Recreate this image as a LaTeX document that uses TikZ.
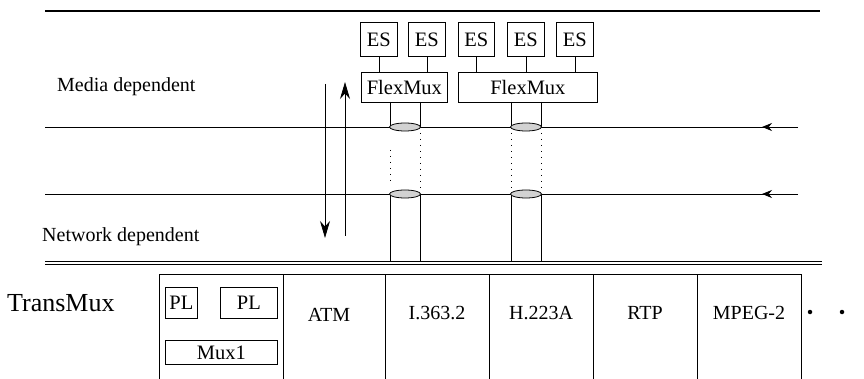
\documentclass[tikz,border=0pt]{standalone}
\usepackage{fontspec}
\setmainfont{Liberation Serif}
\usetikzlibrary{arrows.meta,shapes.geometric}
\begin{document}
\begin{tikzpicture}[x=1pt,y=-1pt,
  txt/.style={font=\fontsize{20}{24}\selectfont, inner sep=0pt},
  box/.style={draw, line width=0.8pt, inner sep=0pt, font=\fontsize{20.5}{24}\selectfont, anchor=north west},
  ln/.style={line width=0.8pt},
  thin dots/.style={line width=0.9pt, dash pattern=on 1pt off 5pt},
  lens/.style={draw, line width=0.8pt, fill=gray!35, ellipse, minimum width=31pt, minimum height=8pt, inner sep=0pt},
  dot/.style={circle, fill=black, inner sep=0pt, minimum size=4.5pt}
]
\useasboundingbox (0,0) rectangle (864,379);
% top rule
\coordinate (tl) at (45,11); \coordinate (tr) at (820,11);
\draw[line width=1.4pt] (tl) -- (tr);
% ES boxes
\node[box, minimum width=37pt, minimum height=34pt] (es1) at (360,22) {ES};
\node[box, minimum width=37pt, minimum height=34pt] (es2) at (408,22) {ES};
\node[box, minimum width=36pt, minimum height=34pt] (es3) at (458,22) {ES};
\node[box, minimum width=37pt, minimum height=34pt] (es4) at (507,22) {ES};
\node[box, minimum width=37pt, minimum height=34pt] (es5) at (556,22) {ES};
% FlexMux boxes
\node[box, minimum width=86pt, minimum height=30pt] (fm1) at (361,72) {FlexMux};
\node[box, minimum width=139pt, minimum height=30pt] (fm2) at (458,72) {FlexMux};
\foreach \e/\f in {es1/fm1,es2/fm1,es3/fm2,es4/fm2,es5/fm2}
  \draw[ln] (\e.south) -- (\e.south |- \f.north);
% horizontal layer lines
\coordinate (l1a) at (45,127); \coordinate (l1b) at (798,127); \coordinate (l1t) at (762,127);
\coordinate (l2a) at (45,194); \coordinate (l2b) at (798,194); \coordinate (l2t) at (762,194);
\draw[ln] (l1a) -- (l1b);
\draw[ln] (l2a) -- (l2b);
\draw[ln,-{Stealth[length=10pt,width=8pt]}] (l1b) -- (l1t);
\draw[ln,-{Stealth[length=10pt,width=8pt]}] (l2b) -- (l2t);
% bottom double rule
\coordinate (bl) at (45,263); \coordinate (br) at (822,263);
\draw[line width=0.8pt] ([yshift=-1.2pt]bl) -- ([yshift=-1.2pt]br);
\draw[line width=0.8pt] ([yshift=1.2pt]bl) -- ([yshift=1.2pt]br);
% channel lines
\foreach \x in {390,420}{
  \draw[ln] (\x,102) -- (\x,127);
  \draw[ln] (\x,194) -- (\x,262);
}
\foreach \x in {511,541}{
  \draw[ln] (\x,102) -- (\x,127);
  \draw[ln] (\x,194) -- (\x,262);
}
\draw[thin dots] (390,150) -- (390,185);
\draw[thin dots] (420,133) -- (420,192);
\draw[thin dots] (511,133) -- (511,192);
\draw[thin dots] (541,133) -- (541,192);
\node[lens] (e1) at (405,127) {};
\node[lens] (e2) at (405,194) {};
\node[lens] (e3) at (526,127) {};
\node[lens] (e4) at (526,194) {};
% vertical arrows
\coordinate (dA) at (325,84); \coordinate (dB) at (325,238);
\coordinate (uA) at (345,236); \coordinate (uB) at (345,82);
\draw[ln,-{Stealth[length=17pt,width=10pt]}] (dA) -- (dB);
\draw[ln,-{Stealth[length=17pt,width=10pt]}] (uA) -- (uB);
% labels
\node[txt, anchor=west] (md) at (57,87) {Media dependent};
\node[txt, anchor=west] (nd) at (42,237) {Network dependent};
\node[inner sep=0pt, anchor=west, font=\fontsize{26}{30}\selectfont] (tm) at (7,303) {TransMux};
% TransMux table
\coordinate (t0) at (159,274); \coordinate (t6) at (801,274);
\draw[ln] (t0) -- (t6);
\foreach \x in {159,283,385,489,593,697,801}
  \draw[ln] (\x,274) -- (\x,381);
\node[txt] (atm) at (329,315) {ATM};
\node[txt] (i363) at (437,313) {I.363.2};
\node[txt] (h223) at (541,313) {H.223A};
\node[txt] (rtp) at (645,313) {RTP};
\node[txt] (mpeg) at (749,313) {MPEG-2};
\node[box, minimum width=32pt, minimum height=31pt] (pl1) at (165,287) {PL};
\node[box, minimum width=57pt, minimum height=31pt] (pl2) at (220,287) {PL};
\node[box, minimum width=112pt, minimum height=24pt] (mux) at (165,340) {Mux1};
\node[dot] (d1) at (810,312) {};
\node[dot] (d2) at (842,312) {};
\end{tikzpicture}
\end{document}
